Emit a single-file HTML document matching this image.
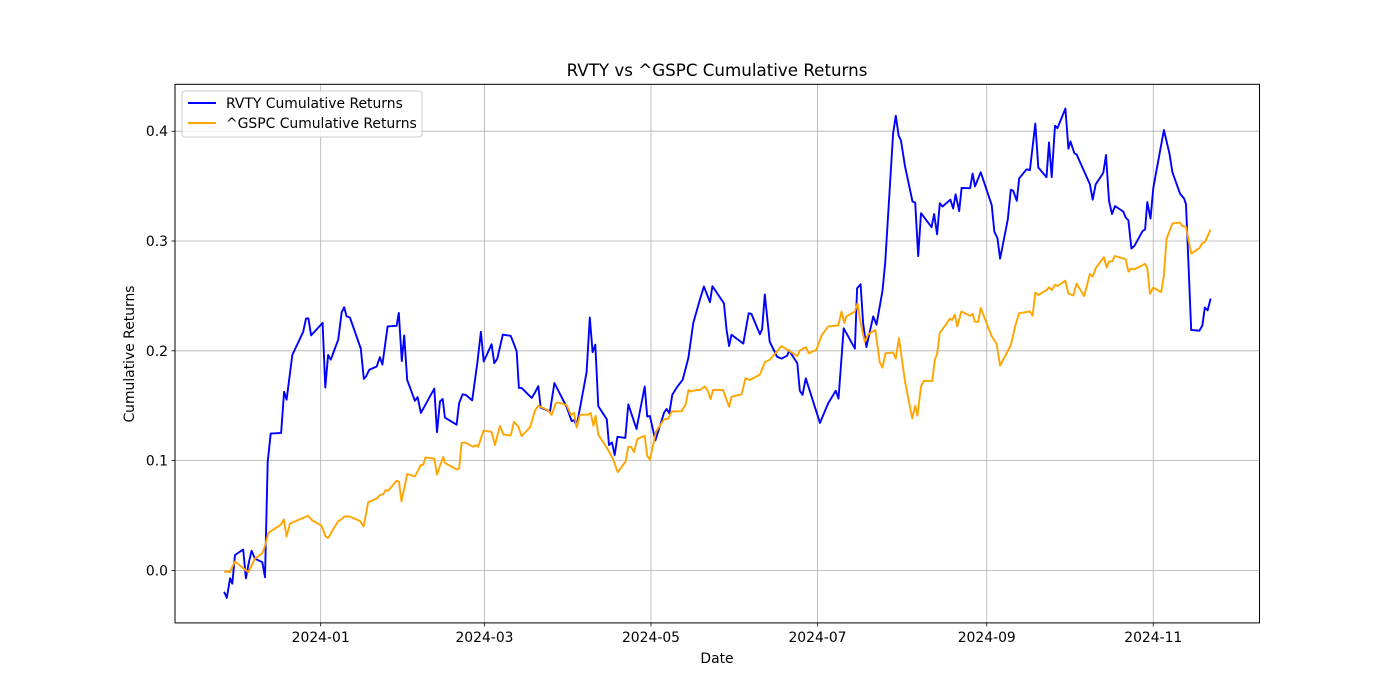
<!DOCTYPE html>
<html><head><meta charset="utf-8"><style>
html,body{margin:0;padding:0;background:#fff;}
svg{display:block;font-family:"DejaVu Sans","Liberation Sans",sans-serif;}
</style></head><body>
<svg id="chart" width="1400" height="700" viewBox="0 0 1400 700" xmlns="http://www.w3.org/2000/svg">
<rect x="0" y="0" width="1400" height="700" fill="#fff"/>
<text x="717" y="76" text-anchor="middle" font-size="16.7">RVTY vs ^GSPC Cumulative Returns</text>
<g id="grid"></g>
<g id="series"></g>
<rect x="175" y="84.3" width="1084.5" height="538.6" fill="none" stroke="#000" stroke-width="1"/>
<g id="axes"></g>
<text x="717" y="663" text-anchor="middle" font-size="13.9">Date</text>
<text transform="translate(134,354) rotate(-90)" text-anchor="middle" font-size="13.9">Cumulative Returns</text>
<g>
<rect x="182" y="91" width="240" height="46" rx="3" fill="#fff" fill-opacity="0.8" stroke="#ccc"/>
<line x1="188" y1="103" x2="216" y2="103" stroke="#0000ff" stroke-width="1.9"/>
<text x="226" y="108" font-size="13.9">RVTY Cumulative Returns</text>
<line x1="188" y1="123" x2="216" y2="123" stroke="#ffa500" stroke-width="1.9"/>
<text x="226" y="128" font-size="13.9">^GSPC Cumulative Returns</text>
</g>
</svg>
<script>
// x values: days since 2024-01-01
const rvtyDays = [-35.4,-34.4,-33.2,-32.4,-31.4,-28.4,-27.4,-26.3,-25.3,-24.1,-21.4,-20.4,-19.4,-18.3,-14.5,-13.4,-12.5,-10.4,-6.4,-5.4,-4.5,-3.5,0.7,1.7,2.7,3.7,6.4,7.7,8.6,9.5,10.7,14.7,15.8,16.6,17.8,20.5,21.7,22.6,24.5,27.8,28.6,29.7,30.6,31.7,34.5,35.5,36.7,41.6,42.6,
43.7,44.7,45.5,49.8,50.7,52.0,53.2,55.5,57.4,58.7,59.7,62.6,63.6,64.7,66.7,69.6,70.6,71.8,72.6,73.6,77.3,78.5,79.7,80.6,84.0,85.6,90.1,91.9,92.8,93.8,97.4,98.6,99.6,100.6,101.7,104.8,105.6,106.7,107.7,108.7,111.6,112.7,115.7,118.7,119.6,120.6,122.6,125.8,126.7,127.7,128.8,130.4,132.6,134.7,136.5,
138.9,140.4,142.6,143.5,147.7,148.7,149.6,150.5,154.8,156.8,157.8,160.9,161.7,162.7,164.5,167.2,168.8,170.9,171.6,174.6,175.5,176.5,177.7,181.0,182.9,185.9,188.7,189.7,191.6,195.7,196.5,197.8,198.7,199.9,202.4,203.6,205.8,206.8,209.7,210.7,211.7,212.6,214.0,216.8,217.8,218.9,219.9,223.8,224.7,225.8,226.8,227.8,230.7,231.7,232.6,233.9,
234.8,237.9,238.8,239.7,241.8,245.8,246.8,247.9,248.9,251.7,252.8,253.7,255.0,255.9,258.6,259.8,261.8,262.9,265.9,266.8,267.8,269.0,269.9,272.8,273.9,274.7,276.1,276.9,281.8,282.8,283.9,286.7,287.7,288.8,289.9,291.0,294.0,294.9,295.9,297.0,298.1,301.1,302.0,302.8,304.0,305.0,308.9,310.9,312.0,314.8,316.3,317.0,318.9,321.9,323.0,323.9,324.9,326.0];
const rvtyValues = [-0.0195,-0.0250,-0.0072,-0.0120,0.0140,0.0189,-0.0072,0.0075,0.0179,0.0107,0.0075,-0.0062,0.0989,0.1246,0.1252,0.1627,0.1555,0.1962,0.2173,0.2293,0.2296,0.2140,0.2254,0.1666,0.1962,0.1919,0.2101,0.2352,0.2397,0.2313,0.2303,0.2020,0.1744,0.1766,0.1828,0.1857,0.1942,0.1874,0.2222,0.2228,0.2345,0.1906,0.2140,0.1734,0.1545,0.1578,0.1434,0.1656,0.1259,
0.1539,0.1561,0.1392,0.1327,0.1522,0.1604,0.1597,0.1548,0.1896,0.2173,0.1903,0.2059,0.1887,0.1929,0.2147,0.2137,0.2075,0.1994,0.1662,0.1662,0.1571,0.1620,0.1678,0.1483,0.1447,0.1707,0.1490,0.1360,0.1369,0.1317,0.1805,0.2303,0.1987,0.2056,0.1496,0.1376,0.1142,0.1165,0.1051,0.1217,0.1207,0.1513,0.1288,0.1675,0.1402,0.1405,0.1184,0.1438,0.1470,0.1431,0.1600,0.1665,0.1737,0.1936,0.2254,
0.2466,0.2586,0.2443,0.2589,0.2433,0.2189,0.2043,0.2147,0.2066,0.2342,0.2336,0.2150,0.2196,0.2514,0.2083,0.1945,0.1929,0.1955,0.2004,0.1887,0.1637,0.1598,0.1750,0.1490,0.1343,0.1522,0.1636,0.1565,0.2205,0.2020,0.2570,0.2606,0.2254,0.2034,0.2313,0.2238,0.2547,0.2801,0.3978,0.4141,0.3962,0.3914,0.3686,0.3360,0.3350,0.2862,0.3253,0.3126,0.3246,0.3061,0.3344,0.3314,0.3376,0.3295,0.3425,0.3272,
0.3484,0.3481,0.3614,0.3497,0.3627,0.3327,0.3083,0.3028,0.2839,0.3197,0.3467,0.3457,0.3366,0.3571,0.3653,0.3646,0.4069,0.3669,0.3581,0.3897,0.3581,0.4050,0.4027,0.4206,0.3841,0.3906,0.3799,0.3789,0.3516,0.3376,0.3516,0.3620,0.3783,0.3366,0.3246,0.3318,0.3269,0.3214,0.3188,0.2932,0.2955,0.3090,0.3106,0.3354,0.3204,0.3484,0.4011,0.3799,0.3627,0.3432,0.3386,0.3334,0.2189,0.2183,0.2231,0.2394,0.2368,0.2475];
const gspcDays = [-35.4,-34.5,-33.3,-31.4,-26.5,-24.1,-21.4,-20.4,-19.2,-18.0,-14.6,-13.5,-12.5,-11.3,-4.6,-3.3,0.3,1.8,2.8,4.0,6.4,7.7,8.6,10.7,14.4,15.7,17.4,20.5,21.7,22.9,23.8,24.7,27.8,28.7,29.6,31.7,34.5,35.7,36.7,37.6,38.4,41.6,42.6,
43.7,44.9,45.5,49.8,50.7,51.6,52.9,55.9,56.8,57.7,59.6,62.6,63.8,65.7,66.9,69.6,70.8,72.4,73.6,76.7,78.5,79.7,83.4,84.6,86.1,87.0,90.1,91.7,92.8,93.8,95.0,98.0,98.9,99.9,100.7,101.7,104.8,106.3,107.4,108.8,111.7,112.7,113.7,114.8,116.0,118.7,119.6,120.6,122.8,125.8,127.3,128.6,132.2,133.7,134.7,135.5,137.7,
138.9,140.7,141.7,142.8,143.8,147.4,149.6,150.5,154.2,155.6,157.2,160.9,162.7,164.5,168.8,174.6,175.5,177.7,178.8,181.6,183.5,185.9,189.6,190.8,191.8,192.6,195.7,196.7,197.5,199.3,200.6,203.2,204.8,205.8,206.9,209.7,210.7,211.8,214.0,216.7,217.8,218.6,219.9,220.9,224.0,225.0,225.8,226.8,229.3,230.5,231.3,232.3,233.2,
234.7,237.9,238.8,239.7,240.9,241.8,245.8,247.6,248.9,252.8,254.4,255.9,259.8,260.8,261.8,262.9,265.9,266.8,267.8,269.0,269.9,272.8,273.9,275.7,276.9,279.7,281.8,282.8,283.9,286.9,287.9,288.8,289.9,291.0,294.9,295.9,297.0,298.1,302.0,302.8,303.8,305.0,307.9,308.9,309.9,312.0,314.8,315.6,317.0,318.9,321.9,323.0,323.9,326.0];
const gspcValues = [-0.0016,-0.0007,-0.0016,0.0081,-0.0016,0.0107,0.0156,0.0221,0.0341,0.0361,0.0416,0.0465,0.0309,0.0426,0.0498,0.0459,0.0407,0.0309,0.0296,0.0351,0.0449,0.0465,0.0491,0.0491,0.0449,0.0400,0.0621,0.0654,0.0686,0.0693,0.0732,0.0725,0.0816,0.0807,0.0628,0.0878,0.0855,0.0914,0.0960,0.0963,0.1028,0.1018,0.0872,
0.0953,0.1034,0.0979,0.0920,0.0927,0.1161,0.1165,0.1126,0.1142,0.1126,0.1272,0.1262,0.1142,0.1317,0.1239,0.1229,0.1353,0.1311,0.1223,0.1304,0.1457,0.1499,0.1457,0.1415,0.1522,0.1529,0.1506,0.1415,0.1434,0.1301,0.1418,0.1418,0.1434,0.1317,0.1408,0.1236,0.1116,0.1051,0.0992,0.0894,0.0992,0.1126,0.1126,0.1077,0.1197,0.1226,0.1044,0.1008,0.1262,0.1376,0.1382,0.1447,0.1450,0.1512,0.1643,0.1630,0.1643,
0.1643,0.1675,0.1643,0.1561,0.1643,0.1643,0.1490,0.1581,0.1604,0.1750,0.1734,0.1783,0.1896,0.1919,0.2043,0.1952,0.2004,0.2033,0.1978,0.2010,0.2140,0.2222,0.2231,0.2358,0.2254,0.2313,0.2358,0.2433,0.2293,0.2082,0.2150,0.2189,0.1896,0.1847,0.1978,0.1984,0.1929,0.2117,0.1727,0.1383,0.1500,0.1409,0.1675,0.1727,0.1724,0.1922,0.1971,0.2163,0.2248,0.2293,0.2280,0.2329,0.2222,
0.2358,0.2319,0.2336,0.2264,0.2264,0.2391,0.2131,0.2066,0.1864,0.2052,0.2222,0.2342,0.2358,0.2319,0.2530,0.2508,0.2553,0.2579,0.2553,0.2602,0.2589,0.2638,0.2521,0.2505,0.2612,0.2498,0.2700,0.2677,0.2752,0.2853,0.2758,0.2814,0.2814,0.2863,0.2834,0.2720,0.2749,0.2742,0.2791,0.2752,0.2518,0.2576,0.2534,0.2687,0.3022,0.3159,0.3169,0.3136,0.3129,0.2885,0.2934,0.2983,0.2989,0.3103];
const xTickDays = [0,60,121,182,244,305];
const xTickLabels = ["2024-01","2024-03","2024-05","2024-07","2024-09","2024-11"];
const yTickValues = [0.0,0.1,0.2,0.3,0.4];
const yTickLabels = ["0.0","0.1","0.2","0.3","0.4"];

const NS = "http://www.w3.org/2000/svg";
const PL = 175, PR = 1259.5, PT = 84.3, PB = 622.9;
function xScale(d){ return 320.7 + d * 2.7297; }
function yScale(v){ return 570.4 - v * 1098; }
function mk(tag, attrs, parent){
  const el = document.createElementNS(NS, tag);
  for (const k in attrs) el.setAttribute(k, attrs[k]);
  parent.appendChild(el);
  return el;
}
const grid = document.getElementById('grid');
const axes = document.getElementById('axes');
const series = document.getElementById('series');

xTickDays.forEach((d, i) => {
  const x = xScale(d);
  const gl = mk('line', {x1:x, y1:PT, x2:x, y2:PB, stroke:'#b0b0b0', 'stroke-width':0.8}, grid);
  
  
  const tk = mk('line', {x1:x, y1:PB, x2:x, y2:PB+3.5, stroke:'#000', 'stroke-width':0.8}, axes);
  
  
  const t = mk('text', {x:x, y:PB+19, 'text-anchor':'middle', 'font-size':13.9}, axes);
  t.textContent = xTickLabels[i];
  
  
});
yTickValues.forEach((v, i) => {
  const y = yScale(v);
  const gl = mk('line', {x1:PL, y1:y, x2:PR, y2:y, stroke:'#b0b0b0', 'stroke-width':0.8}, grid);
  
  
  const tk = mk('line', {x1:PL-3.5, y1:y, x2:PL, y2:y, stroke:'#000', 'stroke-width':0.8}, axes);
  
  
  const t = mk('text', {x:PL-7, y:y+5, 'text-anchor':'end', 'font-size':13.9}, axes);
  t.textContent = yTickLabels[i];
  
  
});
function drawLine(days, vals, color, name){
  const pts = days.map((d, i) => xScale(d).toFixed(1) + ',' + yScale(vals[i]).toFixed(1)).join(' ');
  const pl = mk('polyline', {points:pts, fill:'none', stroke:color, 'stroke-width':1.9, 'stroke-linejoin':'round'}, series);
  
  
}
drawLine(rvtyDays, rvtyValues, '#0000ff', 'rvty-line');
drawLine(gspcDays, gspcValues, '#ffa500', 'gspc-line');
</script>
</body></html>
